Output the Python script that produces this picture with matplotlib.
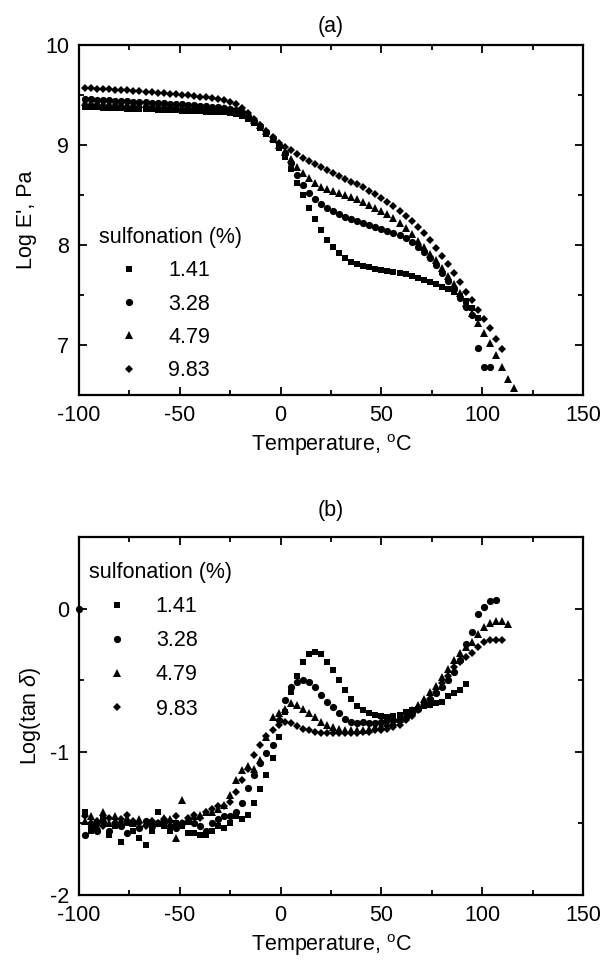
import numpy as np
import matplotlib.pyplot as plt
from matplotlib.ticker import MultipleLocator

plt.rcParams['font.family'] = ['Liberation Sans', 'DejaVu Sans']
plt.rcParams['mathtext.fontset'] = 'custom'
plt.rcParams['mathtext.rm'] = 'Liberation Sans'
plt.rcParams['mathtext.it'] = 'Liberation Sans:italic'
plt.rcParams['axes.unicode_minus'] = False

# temperature grid (deg C) shared by the series
T = [-97, -94, -91, -88, -85, -82, -79, -76, -73, -70, -67, -64, -61, -58, -55,
     -52, -49, -46, -43, -40, -37, -34, -31, -28, -25, -22, -19, -16, -13, -10,
     -7, -4, -1, 2, 5, 8, 11, 14, 17, 20, 23, 26, 29, 32, 35, 38, 41, 44, 47, 50,
     53, 56, 59, 62, 65, 68, 71, 74, 77, 80, 83, 86, 89, 92, 95, 98, 101, 104,
     107, 110, 113, 116]

labels = ['1.41', '3.28', '4.79', '9.83']
markers = ['s', 'o', '^', 'D']
msizes = [4.6, 5.2, 5.8, 4.4]

# (a) Log E'
E_141 = [9.38, 9.38, 9.38, 9.37, 9.37, 9.37, 9.37, 9.36, 9.36, 9.36, 9.36, 9.36,
         9.35, 9.35, 9.35, 9.35, 9.34, 9.34, 9.34, 9.34, 9.33, 9.33, 9.33, 9.33,
         9.32, 9.31, 9.29, 9.26, 9.22, 9.17, 9.11, 9.05, 8.97, 8.88, 8.76, 8.62,
         8.50, 8.37, 8.26, 8.15, 8.05, 7.98, 7.92, 7.87, 7.83, 7.81, 7.79, 7.78,
         7.76, 7.75, 7.74, 7.73, 7.72, 7.71, 7.69, 7.67, 7.65, 7.63, 7.61, 7.58,
         7.56, 7.53, 7.49, 7.44, 7.37, 7.27]
E_328 = [9.46, 9.46, 9.45, 9.45, 9.45, 9.44, 9.44, 9.44, 9.43, 9.43, 9.43, 9.42,
         9.42, 9.42, 9.41, 9.41, 9.41, 9.40, 9.40, 9.39, 9.39, 9.38, 9.38, 9.37,
         9.36, 9.35, 9.33, 9.29, 9.24, 9.19, 9.13, 9.07, 9.00, 8.92, 8.82, 8.70,
         8.60, 8.52, 8.46, 8.41, 8.37, 8.34, 8.31, 8.28, 8.26, 8.24, 8.22, 8.20,
         8.18, 8.16, 8.14, 8.12, 8.10, 8.07, 8.03, 7.98, 7.93, 7.87, 7.80, 7.72,
         7.64, 7.56, 7.47, 7.38, 7.30, 6.97, 6.78, 6.78]
E_479 = [9.43, 9.43, 9.43, 9.42, 9.42, 9.42, 9.42, 9.41, 9.41, 9.41, 9.41, 9.40,
         9.40, 9.40, 9.40, 9.39, 9.39, 9.39, 9.38, 9.38, 9.38, 9.37, 9.37, 9.37,
         9.36, 9.35, 9.33, 9.30, 9.25, 9.20, 9.14, 9.07, 9.00, 8.93, 8.86, 8.78,
         8.72, 8.67, 8.62, 8.58, 8.56, 8.54, 8.52, 8.50, 8.48, 8.46, 8.43, 8.40,
         8.37, 8.34, 8.31, 8.27, 8.22, 8.17, 8.11, 8.04, 7.98, 7.91, 7.85, 7.77,
         7.69, 7.61, 7.52, 7.42, 7.32, 7.22, 7.12, 7.02, 6.90, 6.78, 6.66, 6.57]
E_983 = [9.57, 9.57, 9.56, 9.56, 9.56, 9.55, 9.55, 9.55, 9.54, 9.54, 9.53, 9.53,
         9.52, 9.52, 9.51, 9.51, 9.50, 9.50, 9.49, 9.48, 9.48, 9.47, 9.46, 9.45,
         9.43, 9.41, 9.37, 9.32, 9.26, 9.20, 9.14, 9.08, 9.02, 8.98, 8.95, 8.91,
         8.87, 8.84, 8.81, 8.78, 8.75, 8.72, 8.69, 8.66, 8.63, 8.61, 8.58, 8.54,
         8.51, 8.47, 8.43, 8.39, 8.34, 8.29, 8.24, 8.18, 8.12, 8.05, 7.97, 7.89,
         7.81, 7.72, 7.63, 7.53, 7.45, 7.35, 7.26, 7.17, 7.06, 6.96]

# (b) Log(tan delta)
D_141 = [-1.42, -1.55, -1.50, -1.47, -1.58, -1.52, -1.63, -1.50, -1.55, -1.60,
         -1.65, -1.55, -1.42, -1.52, -1.55, -1.50, -1.52, -1.57, -1.57, -1.58,
         -1.58, -1.55, -1.52, -1.53, -1.50, -1.45, -1.47, -1.44, -1.36, -1.26,
         -1.16, -1.04, -0.90, -0.72, -0.58, -0.47, -0.37, -0.32, -0.30, -0.32,
         -0.37, -0.43, -0.50, -0.57, -0.63, -0.68, -0.71, -0.73, -0.74, -0.75,
         -0.76, -0.75, -0.74, -0.72, -0.71, -0.70, -0.68, -0.67, -0.66, -0.65,
         -0.61, -0.59, -0.57, -0.53]
D_328 = [-1.58, -1.52, -1.55, -1.49, -1.55, -1.50, -1.52, -1.57, -1.50, -1.53,
         -1.48, -1.52, -1.50, -1.49, -1.52, -1.53, -1.50, -1.48, -1.50, -1.52,
         -1.55, -1.50, -1.47, -1.45, -1.45, -1.42, -1.36, -1.25, -1.16, -1.08,
         -1.01, -0.95, -0.78, -0.64, -0.55, -0.51, -0.50, -0.51, -0.55, -0.60,
         -0.65, -0.69, -0.73, -0.77, -0.79, -0.80, -0.79, -0.80, -0.80, -0.79,
         -0.78, -0.78, -0.77, -0.76, -0.73, -0.70, -0.66, -0.63, -0.59, -0.55,
         -0.50, -0.44, -0.36, -0.25, -0.16, -0.04, 0.01, 0.05, 0.06]
D_479 = [-1.48, -1.45, -1.52, -1.42, -1.50, -1.45, -1.48, -1.46, -1.50, -1.47,
         -1.50, -1.48, -1.50, -1.46, -1.47, -1.60, -1.34, -1.48, -1.45, -1.44,
         -1.42, -1.42, -1.40, -1.37, -1.30, -1.20, -1.13, -1.10, -1.12, -1.06,
         -0.90, -0.76, -0.73, -0.70, -0.66, -0.67, -0.70, -0.73, -0.76, -0.79,
         -0.81, -0.83, -0.84, -0.85, -0.85, -0.85, -0.85, -0.84, -0.83, -0.82,
         -0.80, -0.79, -0.77, -0.74, -0.71, -0.67, -0.63, -0.58, -0.54, -0.48,
         -0.42, -0.36, -0.31, -0.27, -0.23, -0.18, -0.13, -0.10, -0.09, -0.09,
         -0.11]
D_983 = [-1.45, -1.50, -1.48, -1.52, -1.46, -1.50, -1.47, -1.44, -1.48, -1.50,
         -1.52, -1.48, -1.50, -1.47, -1.48, -1.45, -1.50, -1.46, -1.44, -1.46,
         -1.42, -1.40, -1.38, -1.38, -1.35, -1.28, -1.20, -1.12, -1.02, -0.95,
         -0.89, -0.85, -0.81, -0.79, -0.80, -0.82, -0.84, -0.85, -0.86, -0.87,
         -0.87, -0.87, -0.87, -0.87, -0.87, -0.87, -0.86, -0.86, -0.85, -0.85,
         -0.84, -0.83, -0.81, -0.78, -0.75, -0.71, -0.67, -0.63, -0.58, -0.52,
         -0.47, -0.41, -0.37, -0.34, -0.31, -0.27, -0.23, -0.22, -0.22, -0.22]
# lone 3.28 point sitting on the left axis
stray_T = [-100]
stray_D = [0.0]

fs = 15.5
fig = plt.figure(figsize=(6.08, 9.66), dpi=100)
ax1 = fig.add_axes([79/608, 1-395/966, 504/608, 350/966])
ax2 = fig.add_axes([79/608, 1-895/966, 504/608, 358/966])

for ax, data in [(ax1, [E_141, E_328, E_479, E_983]),
                 (ax2, [D_141, D_328, D_479, D_983])]:
    for vals, lab, m, ms in zip(data, labels, markers, msizes):
        ax.plot(T[:len(vals)], vals, m, color='black', ms=ms, mew=0,
                linestyle='none', label=lab)

ax2.plot(stray_T, stray_D, 'o', color='black', ms=5.2, mew=0, clip_on=False)

ax1.set_xlim(-100, 150)
ax1.set_ylim(6.5, 10)
ax1.yaxis.set_major_locator(MultipleLocator(1))
ax1.yaxis.set_minor_locator(MultipleLocator(0.5))
ax1.set_ylabel("Log E', Pa", fontsize=fs, labelpad=6)
ax1.set_title('(a)', fontsize=fs, pad=9)

ax2.set_xlim(-100, 150)
ax2.set_ylim(-2, 0.5)
ax2.yaxis.set_major_locator(MultipleLocator(1))
ax2.yaxis.set_minor_locator(MultipleLocator(0.5))
ax2.set_ylabel(r'Log(tan $\delta$)', fontsize=fs, labelpad=5)
ax2.set_title('(b)', fontsize=fs, pad=15)

for ax in (ax1, ax2):
    ax.xaxis.set_major_locator(MultipleLocator(50))
    ax.xaxis.set_minor_locator(MultipleLocator(25))
    ax.set_xlabel(r'Temperature, $^{\rm o}$C', fontsize=fs, labelpad=5)
    ax.tick_params(which='both', direction='in', top=True, right=True,
                   labelsize=fs, width=1.3)
    ax.tick_params(which='major', length=5.5, pad=7)
    ax.tick_params(which='minor', length=3.5)
    for sp in ax.spines.values():
        sp.set_linewidth(1.6)

ax1.legend(title='sulfonation (%)', title_fontsize=fs, fontsize=fs,
           loc='upper left', bbox_to_anchor=(0.04, 0.48), frameon=False,
           borderpad=0, borderaxespad=0, handlelength=2.8,
           handletextpad=0.4, labelspacing=0.57, alignment='left')
ax2.legend(title='sulfonation (%)', title_fontsize=fs, fontsize=fs,
           loc='upper left', bbox_to_anchor=(0.02, 0.93), frameon=False,
           borderpad=0, borderaxespad=0, handlelength=2.6,
           handletextpad=0.5, labelspacing=0.61, alignment='left')

plt.savefig('out.png', dpi=100)
